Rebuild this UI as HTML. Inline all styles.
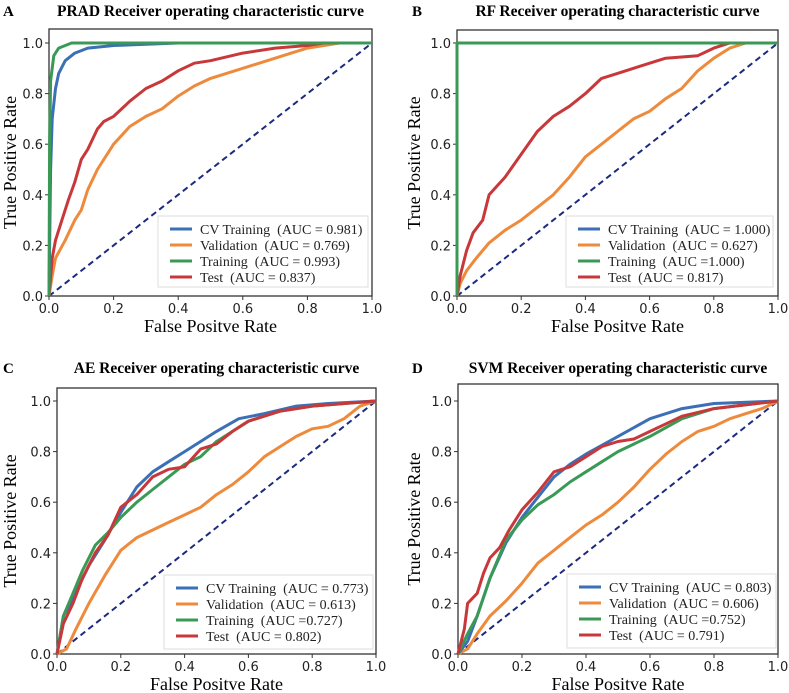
<!DOCTYPE html>
<html><head><meta charset="utf-8">
<style>
html,body{margin:0;padding:0;background:#fff;}
svg{display:block;}
text{font-family:"DejaVu Sans","Liberation Sans",sans-serif;}
.serif{font-family:"Liberation Serif",serif;}
</style></head>
<body>
<svg id="fig" width="789" height="693" viewBox="0 0 789 693" xmlns="http://www.w3.org/2000/svg"></svg>
<script>
const xTicks=[0,0.2,0.4,0.6,0.8,1.0];
const yTicks=[0,0.2,0.4,0.6,0.8,1.0];
const tickLabels=["0.0","0.2","0.4","0.6","0.8","1.0"];
const seriesNames=["CV Training","Validation","Training","Test"];
const colors=["#3b6fb6","#ee8a3c","#3a9a55","#c8383a"];

const aAUC=["(AUC = 0.981)","(AUC = 0.769)","(AUC = 0.993)","(AUC = 0.837)"];
const bAUC=["(AUC = 1.000)","(AUC = 0.627)","(AUC =1.000)","(AUC = 0.817)"];
const cAUC=["(AUC = 0.773)","(AUC = 0.613)","(AUC =0.727)","(AUC = 0.802)"];
const dAUC=["(AUC = 0.803)","(AUC = 0.606)","(AUC =0.752)","(AUC = 0.791)"];

const aCV=[[0,0],[0.005,0.5],[0.01,0.7],[0.02,0.82],[0.03,0.88],[0.05,0.93],[0.08,0.96],[0.12,0.98],[0.2,0.99],[0.4,1],[1,1]];
const aVal=[[0,0],[0.01,0.08],[0.02,0.15],[0.05,0.22],[0.08,0.3],[0.1,0.34],[0.12,0.42],[0.15,0.5],[0.2,0.6],[0.25,0.67],[0.3,0.71],[0.35,0.74],[0.4,0.79],[0.45,0.83],[0.5,0.86],[0.6,0.9],[0.7,0.94],[0.75,0.96],[0.8,0.98],[0.9,1],[1,1]];
const aTrain=[[0,0],[0.002,0.6],[0.005,0.85],[0.015,0.95],[0.03,0.98],[0.07,1],[1,1]];
const aTest=[[0,0],[0.01,0.15],[0.02,0.22],[0.04,0.3],[0.06,0.38],[0.08,0.45],[0.1,0.54],[0.12,0.58],[0.15,0.66],[0.17,0.69],[0.2,0.71],[0.25,0.77],[0.3,0.82],[0.35,0.85],[0.4,0.89],[0.45,0.92],[0.5,0.93],[0.6,0.96],[0.7,0.98],[0.8,0.99],[0.85,1],[1,1]];

const bCV=[[0,0],[0,1],[1,1]];
const bVal=[[0,0],[0.01,0.05],[0.03,0.1],[0.06,0.15],[0.1,0.21],[0.15,0.26],[0.2,0.3],[0.25,0.35],[0.3,0.4],[0.35,0.47],[0.4,0.55],[0.45,0.6],[0.5,0.65],[0.55,0.7],[0.6,0.73],[0.65,0.78],[0.7,0.82],[0.75,0.89],[0.8,0.94],[0.85,0.98],[0.9,1],[1,1]];
const bTrain=[[0,0],[0,1],[1,1]];
const bTest=[[0,0],[0.01,0.08],[0.03,0.18],[0.05,0.25],[0.08,0.3],[0.1,0.4],[0.15,0.47],[0.2,0.56],[0.25,0.65],[0.3,0.71],[0.35,0.75],[0.4,0.8],[0.45,0.86],[0.5,0.88],[0.55,0.9],[0.6,0.92],[0.65,0.94],[0.75,0.95],[0.8,0.98],[0.85,1],[1,1]];

const cCV=[[0,0],[0.02,0.15],[0.05,0.22],[0.1,0.35],[0.15,0.45],[0.2,0.56],[0.25,0.66],[0.3,0.72],[0.35,0.76],[0.4,0.8],[0.45,0.84],[0.5,0.88],[0.57,0.93],[0.65,0.95],[0.75,0.98],[0.85,0.99],[1,1]];
const cVal=[[0,0],[0.03,0.02],[0.06,0.1],[0.1,0.2],[0.15,0.31],[0.2,0.41],[0.25,0.46],[0.3,0.49],[0.35,0.52],[0.4,0.55],[0.45,0.58],[0.5,0.63],[0.55,0.67],[0.6,0.72],[0.65,0.78],[0.7,0.82],[0.75,0.86],[0.8,0.89],[0.85,0.9],[0.9,0.93],[0.95,0.98],[1,1]];
const cTrain=[[0,0],[0.02,0.15],[0.05,0.24],[0.08,0.33],[0.12,0.43],[0.16,0.48],[0.2,0.54],[0.25,0.6],[0.3,0.65],[0.35,0.7],[0.4,0.75],[0.45,0.78],[0.5,0.84],[0.55,0.88],[0.6,0.92],[0.7,0.96],[0.8,0.98],[1,1]];
const cTest=[[0,0],[0.02,0.12],[0.05,0.2],[0.08,0.3],[0.12,0.4],[0.16,0.47],[0.2,0.58],[0.25,0.63],[0.3,0.7],[0.35,0.73],[0.4,0.74],[0.45,0.81],[0.5,0.83],[0.55,0.88],[0.6,0.92],[0.7,0.96],[0.8,0.98],[0.9,0.99],[1,1]];

const dCV=[[0,0],[0.03,0.05],[0.06,0.15],[0.1,0.3],[0.15,0.44],[0.2,0.54],[0.25,0.62],[0.3,0.7],[0.35,0.75],[0.4,0.79],[0.5,0.86],[0.6,0.93],[0.7,0.97],[0.8,0.99],[1,1]];
const dVal=[[0,0],[0.03,0.02],[0.06,0.08],[0.1,0.15],[0.15,0.21],[0.2,0.28],[0.25,0.36],[0.3,0.41],[0.35,0.46],[0.4,0.51],[0.45,0.55],[0.5,0.6],[0.55,0.66],[0.6,0.73],[0.65,0.79],[0.7,0.84],[0.75,0.88],[0.8,0.9],[0.85,0.93],[0.9,0.95],[0.95,0.97],[1,1]];
const dTrain=[[0,0],[0.03,0.08],[0.06,0.15],[0.1,0.3],[0.15,0.45],[0.2,0.53],[0.25,0.59],[0.3,0.63],[0.35,0.68],[0.4,0.72],[0.45,0.76],[0.5,0.8],[0.6,0.86],[0.7,0.93],[0.8,0.97],[1,1]];
const dTest=[[0,0],[0.02,0.1],[0.03,0.2],[0.06,0.24],[0.08,0.32],[0.1,0.38],[0.13,0.42],[0.16,0.49],[0.2,0.57],[0.25,0.64],[0.3,0.72],[0.35,0.74],[0.4,0.78],[0.45,0.82],[0.5,0.84],[0.55,0.85],[0.6,0.88],[0.65,0.91],[0.7,0.94],[0.8,0.97],[1,1]];

const NS="http://www.w3.org/2000/svg";
const svg=document.getElementById('fig');
function mk(tag,attrs,parent,txt){const e=document.createElementNS(NS,tag);for(const k in attrs)e.setAttribute(k,attrs[k]);if(txt!==undefined)e.textContent=txt;(parent||svg).appendChild(e);return e;}

function panel(p){
  const g=mk('g',{});
  
  
  const sx=v=>p.l+v*(p.r-p.l);
  const sy=v=>p.y0+v*(p.y1-p.y0);
  const lab=mk('text',{x:p.labX,y:p.titleY,'font-size':15,'font-weight':'bold',class:'serif'},g,p.id);
  
  const t=mk('text',{x:(p.l+p.r)/2,y:p.titleY,'font-size':15.5,'font-weight':'bold','text-anchor':'middle',class:'serif'},g,p.title);
  
  const frame=mk('rect',{x:p.l,y:p.top,width:p.r-p.l,height:p.y0-p.top,fill:'none',stroke:'#333','stroke-width':1.3},g);
  
  xTicks.forEach((v,i)=>{
    mk('line',{x1:sx(v),x2:sx(v),y1:p.y0,y2:p.y0+4,stroke:'#333'},g);
    const tl=mk('text',{x:sx(v),y:p.y0+17,'font-size':13,'text-anchor':'middle',fill:'#222'},g,tickLabels[i]);
    
  });
  yTicks.forEach((v,i)=>{
    mk('line',{x1:p.l-4,x2:p.l,y1:sy(v),y2:sy(v),stroke:'#333'},g);
    const tl=mk('text',{x:p.l-6,y:sy(v)+5,'font-size':13,'text-anchor':'end',fill:'#222'},g,tickLabels[i]);
    
  });
  const xt=mk('text',{x:(p.l+p.r)/2,y:p.y0+36,'font-size':18,'text-anchor':'middle',class:'serif'},g,'False Positve Rate');
  
  const cy=(p.top+p.y0)/2;
  const yt=mk('text',{x:p.ytX,y:cy,'font-size':18,'text-anchor':'middle',class:'serif',transform:`rotate(-90 ${p.ytX} ${cy})`},g,'True Positive Rate');
  
  const diag=mk('line',{x1:sx(0),y1:sy(0),x2:sx(1),y2:sy(1),stroke:'#1c2a80','stroke-width':2,'stroke-dasharray':'6,4'},g);
  
  p.order.forEach(i=>{
    const d=p.series[i].map((pt,j)=>(j?'L':'M')+sx(pt[0]).toFixed(1)+','+sy(pt[1]).toFixed(1)).join(' ');
    const path=mk('path',{d:d,fill:'none',stroke:colors[i],'stroke-width':3,'stroke-linejoin':'round'},g);
    
    
  });
  const lg=mk('g',{},g);
  
  mk('rect',{x:p.lg[0],y:p.lg[1],width:p.lg[2],height:p.lg[3],fill:'#fff',stroke:'#ddd'},lg);
  seriesNames.forEach((n,i)=>{
    const yy=p.lg[1]+13+i*16;
    mk('line',{x1:p.lg[0]+12,x2:p.lg[0]+34,y1:yy,y2:yy,stroke:colors[i],'stroke-width':3},lg);
    const et=mk('text',{x:p.lg[0]+42,y:yy+5,'font-size':14,class:'serif',fill:'#222'},lg,n+'\u00a0 '+p.auc[i]);
    
  });
}

panel({id:'A',title:'PRAD Receiver operating characteristic curve',labX:3,titleY:16,l:49,r:372,top:29,y0:296,y1:43,ytX:16,lg:[158,216,210,71],auc:aAUC,series:[aCV,aVal,aTrain,aTest],order:[1,3,0,2]});
panel({id:'B',title:'RF Receiver operating characteristic curve',labX:412,titleY:16,l:457,r:778,top:30,y0:296,y1:43,ytX:420,lg:[566,216,207,71],auc:bAUC,series:[bCV,bVal,bTrain,bTest],order:[0,1,3,2]});
panel({id:'C',title:'AE Receiver operating characteristic curve',labX:3,titleY:373,l:57,r:376,top:388,y0:654,y1:401,ytX:16,lg:[164,575,209,74],auc:cAUC,series:[cCV,cVal,cTrain,cTest],order:[1,0,2,3]});
panel({id:'D',title:'SVM Receiver operating characteristic curve',labX:412,titleY:373,l:458,r:778,top:384,y0:654,y1:401,ytX:420,lg:[567,574,209,74],auc:dAUC,series:[dCV,dVal,dTrain,dTest],order:[1,0,2,3]});
</script>
</body></html>
